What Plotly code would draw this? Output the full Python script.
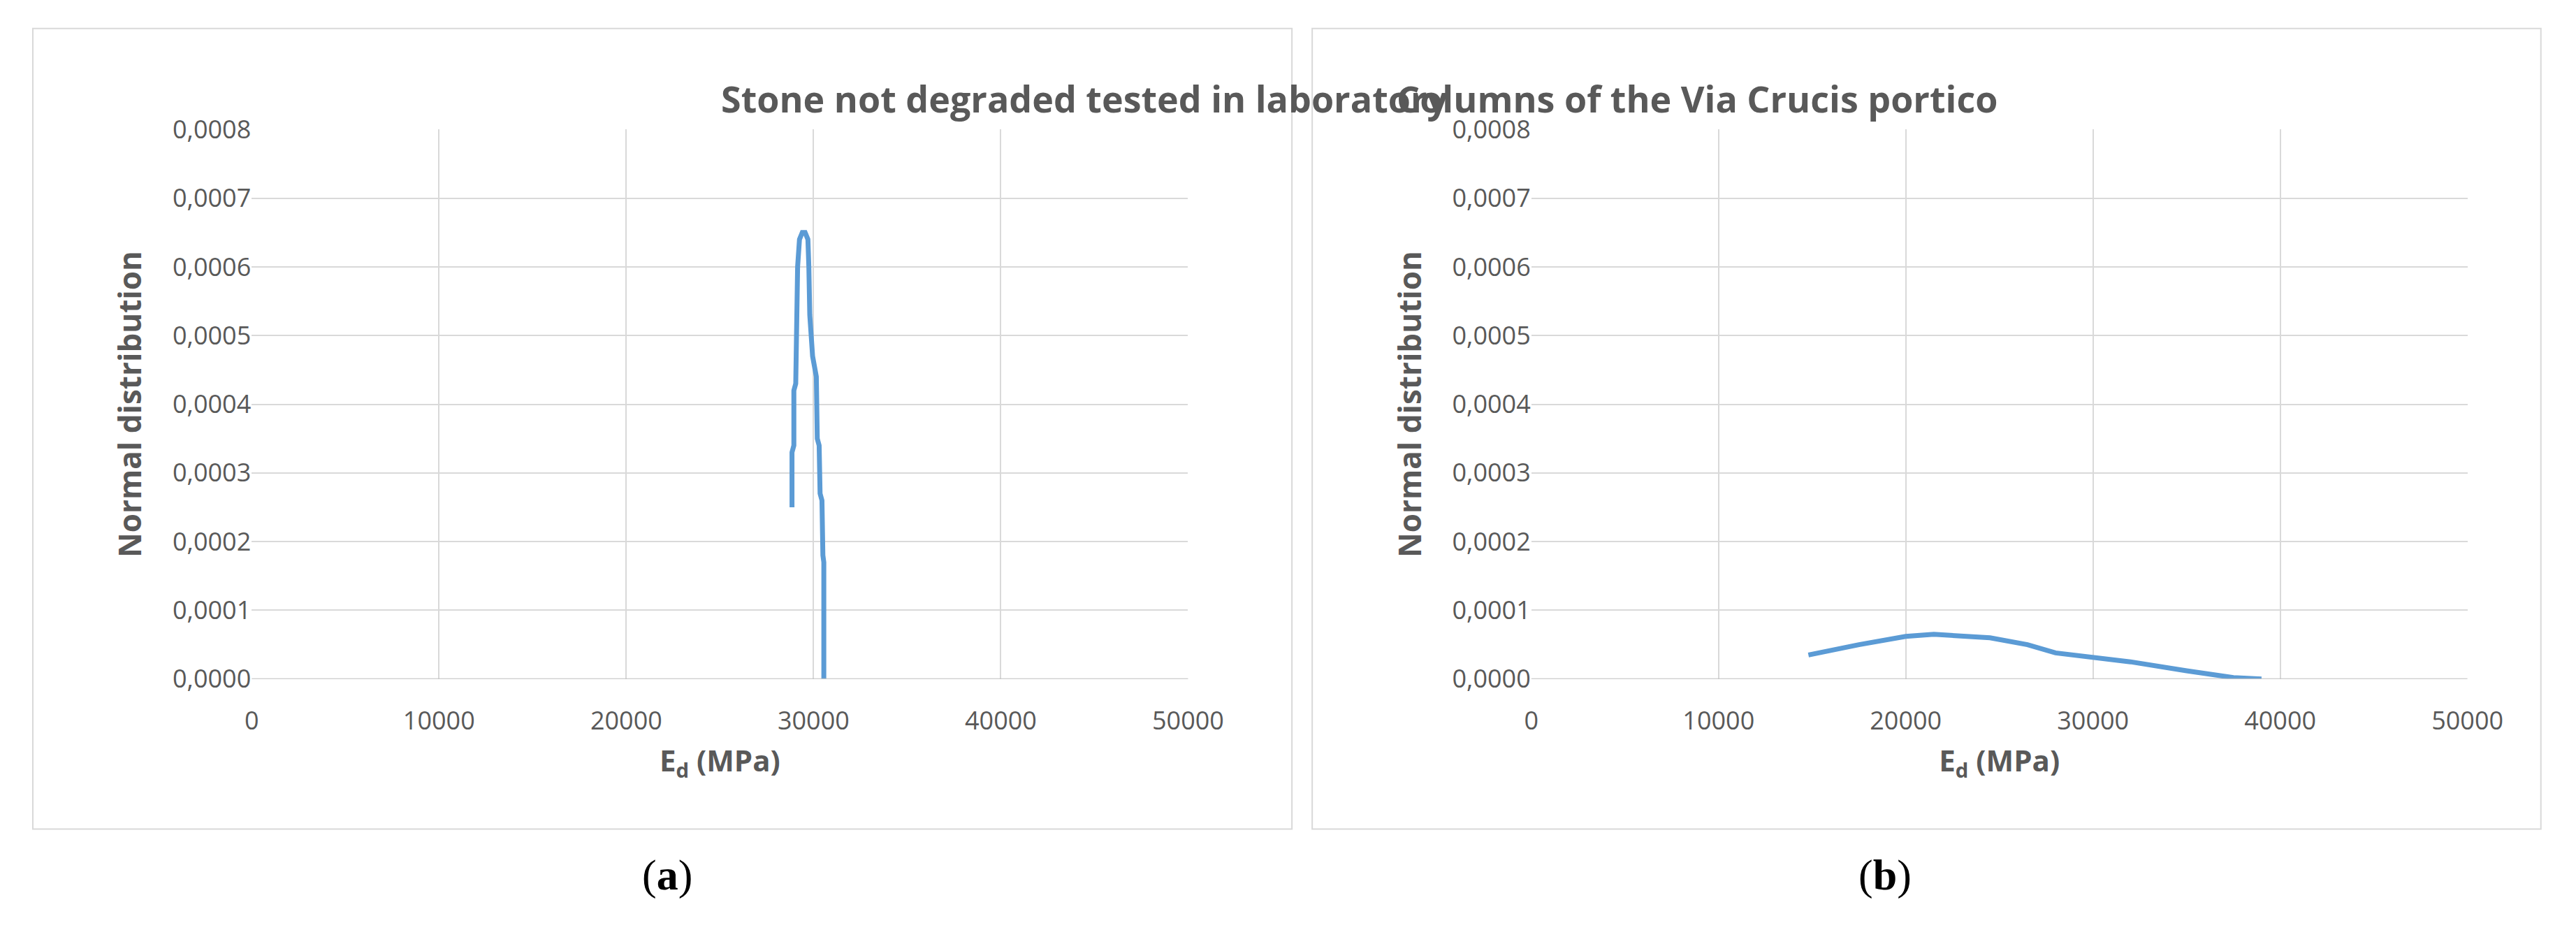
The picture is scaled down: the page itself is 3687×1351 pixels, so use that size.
import plotly.graph_objects as go

x_a = [28850,28850,28950,28950,29050,29150,29250,29400,29550,29700,29750,29800,29950,30100,30150,30200,30300,30350,30450,30500,30550,30550]
y_a = [0.00025,0.00033,0.00034,0.00042,0.00043,0.00060,0.00064,0.00065,0.00065,0.00064,0.00060,0.00053,0.00047,0.00045,0.00044,0.00035,0.00034,0.00027,0.00026,0.00018,0.00017,0.0]
x_b = [14800,17500,20000,21500,24500,26500,28000,32000,35000,37500,39000]
y_b = [0.000035,0.00005,0.000062,0.000065,0.00006,0.00005,0.000038,0.000025,0.000012,0.000002,0.0]
titles = ["Stone not degraded tested in laboratory", "Columns of the Via Crucis portico"]
captions = ["(<b>a</b>)", "(<b>b</b>)"]
yticks = [i*0.0001 for i in range(9)]
ytext = ["0,%04d" % i for i in range(9)]

fig = go.Figure()
fig.add_trace(go.Scatter(x=x_a, y=y_a, mode="lines", line=dict(color="#5b9bd5", width=7), xaxis="x", yaxis="y"))
fig.add_trace(go.Scatter(x=x_b, y=y_b, mode="lines", line=dict(color="#5b9bd5", width=7), xaxis="x2", yaxis="y2"))

font = "Open Sans"
ax = dict(range=[0, 50000], dtick=10000, tickformat="d", showgrid=True, gridcolor="#d9d9d9", gridwidth=2, zeroline=False,
          showline=False, tickfont=dict(family=font, size=36, color="#595959"), ticks="outside", ticklen=28, tickcolor="white",
          title=dict(text="<b>E<sub>d</sub> (MPa)</b>", standoff=20, font=dict(family=font, size=42, color="#595959")))
ay = dict(range=[0, 0.0008], tickvals=yticks, ticktext=ytext, showgrid=True, gridcolor="#d9d9d9", gridwidth=2,
          zeroline=False, showline=False, tickfont=dict(family=font, size=36, color="#595959"), ticks="", ticklen=4,
          title=dict(text="<b>Normal distribution</b>", standoff=30, font=dict(family=font, size=44, color="#595959")))
ydom = [0.279, 0.883]
fig.update_layout(
    width=3687, height=1351, margin=dict(l=0, r=0, t=0, b=0), showlegend=False,
    plot_bgcolor="white", paper_bgcolor="white",
    xaxis=dict(ax, domain=[0.0944, 0.464], anchor="y"),
    yaxis=dict(ay, domain=ydom, anchor="x"),
    xaxis2=dict(ax, domain=[0.5995, 0.969], anchor="y2"),
    yaxis2=dict(ay, domain=ydom, anchor="x2"),
)
for ref, yref in [("x", "y"), ("x2", "y2")]:
    fig.add_shape(type="line", xref=ref+" domain", yref=yref, x0=0, x1=1, y0=0, y1=0, line=dict(color="#bfbfbf", width=2))
panels = [(0.008, 0.505), (0.513, 0.998)]
title_x = [0.279, 0.784]
cap_x = [0.248, 0.750]
for i, (x0, x1) in enumerate(panels):
    fig.add_shape(type="rect", xref="paper", yref="paper", x0=x0, x1=x1, y0=0.114, y1=0.994,
                  line=dict(color="#d9d9d9", width=2))
    fig.add_annotation(xref="paper", yref="paper", x=title_x[i], y=0.946, text="<b>"+titles[i]+"</b>",
                       showarrow=False, font=dict(family=font, size=52, color="#595959"))
    fig.add_annotation(xref="paper", yref="paper", x=cap_x[i], y=0.035, text=captions[i],
                       showarrow=False, font=dict(family="Liberation Serif", size=62, color="black"))
fig.write_html("out.html")
